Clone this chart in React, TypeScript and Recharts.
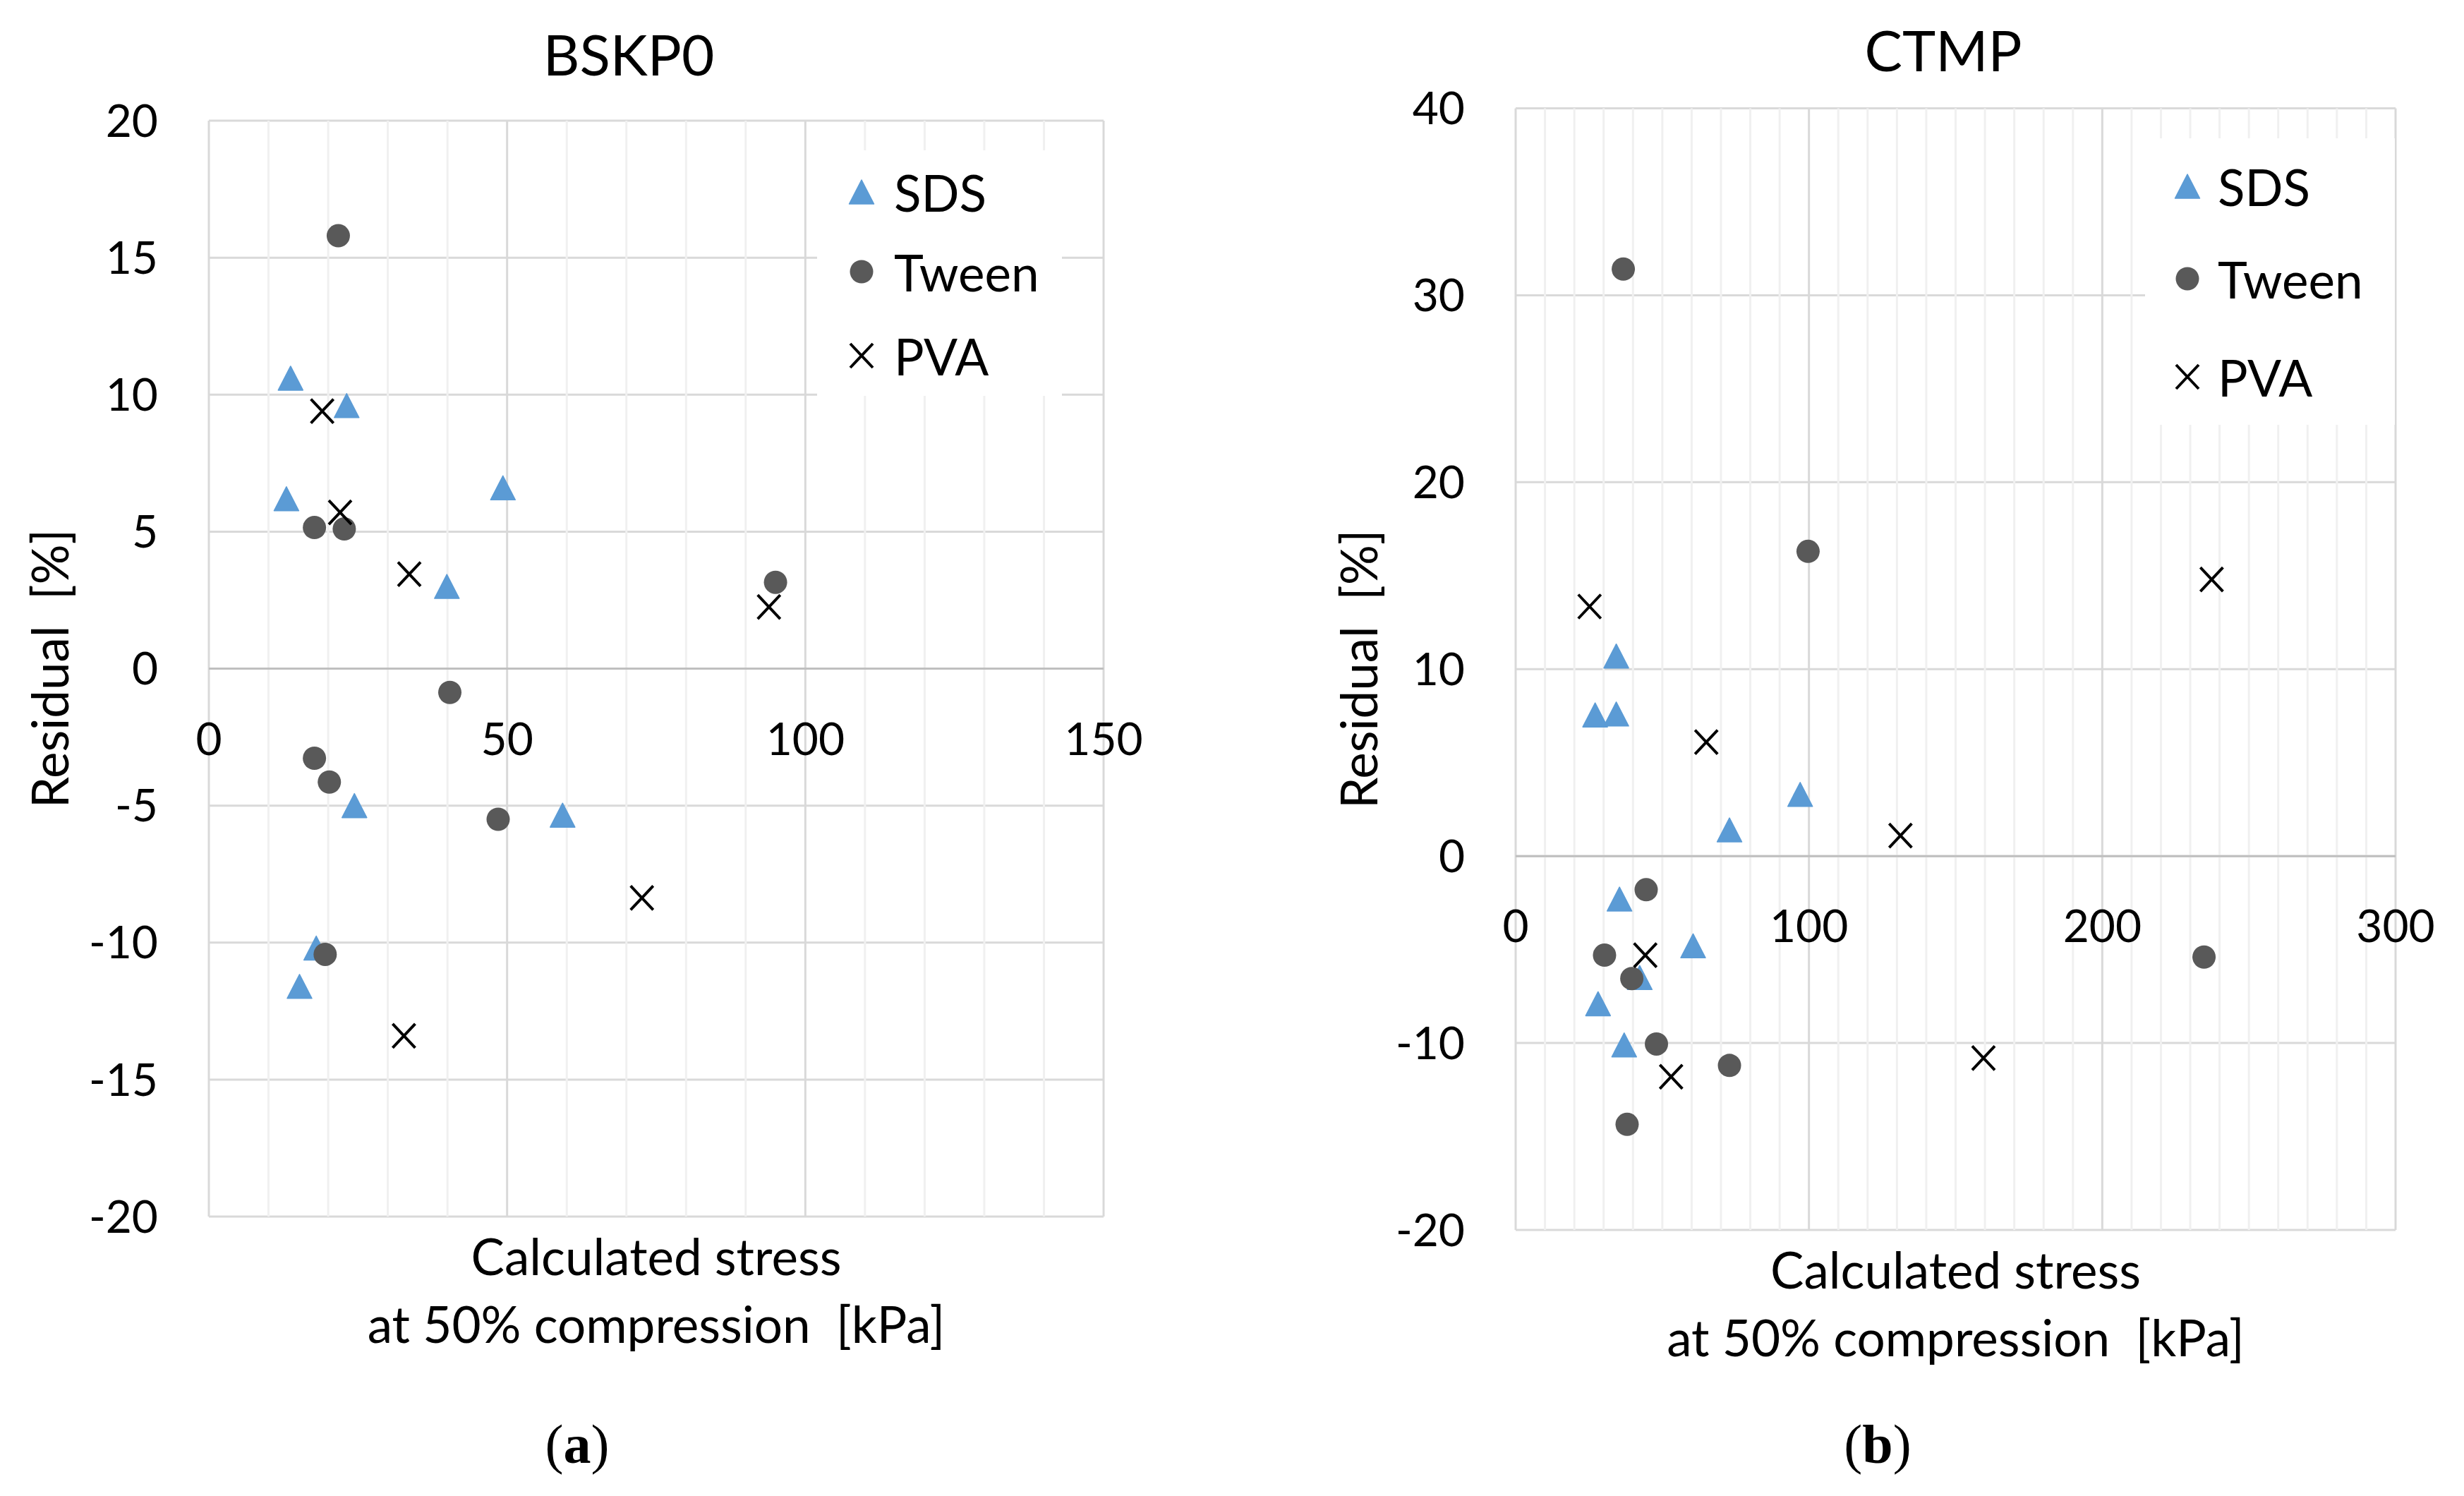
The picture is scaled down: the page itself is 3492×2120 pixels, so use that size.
import React from 'react';
import {
  ScatterChart,
  Scatter,
  XAxis,
  YAxis,
  CartesianGrid,
  ReferenceLine,
  Legend,
} from 'recharts';

// BSKP0 (a)
const bskpSdsX = [13.7, 23.1, 13.0, 49.3, 39.9, 24.4, 59.3, 18.0, 15.2];
const bskpSdsY = [10.6, 9.6, 6.2, 6.6, 3.0, -5.0, -5.35, -10.2, -11.6];
const bskpTweenX = [21.7, 17.7, 22.7, 95.0, 40.4, 17.7, 20.2, 48.5, 19.5];
const bskpTweenY = [15.8, 5.15, 5.1, 3.15, -0.87, -3.27, -4.14, -5.5, -10.43];
const bskpPvaX = [19.0, 22.0, 33.6, 93.9, 72.6, 32.7];
const bskpPvaY = [9.4, 5.7, 3.45, 2.25, -8.37, -13.4];

// CTMP (b)
const ctmpSdsX = [34.3, 27.1, 34.3, 97.0, 72.9, 35.4, 60.5, 42.3, 28.1, 37.0];
const ctmpSdsY = [10.7, 7.55, 7.6, 3.3, 1.4, -2.3, -4.8, -6.5, -7.9, -10.1];
const ctmpTweenX = [36.7, 99.7, 44.5, 30.3, 39.6, 48.0, 72.9, 38.0, 234.7];
const ctmpTweenY = [31.4, 16.3, -1.8, -5.3, -6.55, -10.05, -11.2, -14.35, -5.4];
const ctmpPvaX = [25.2, 237.3, 65.0, 131.2, 44.2, 53.0, 159.5];
const ctmpPvaY = [13.35, 14.8, 6.1, 1.1, -5.3, -11.8, -10.8];

// axis ticks
const bskpXTicks = [0, 50, 100, 150];
const bskpXMinor = [10, 20, 30, 40, 60, 70, 80, 90, 110, 120, 130, 140];
const bskpYTicks = [-20, -15, -10, -5, 0, 5, 10, 15, 20];
const ctmpXTicks = [0, 100, 200, 300];
const ctmpXMinor = [
  10, 20, 30, 40, 50, 60, 70, 80, 90, 110, 120, 130, 140, 150, 160, 170, 180,
  190, 210, 220, 230, 240, 250, 260, 270, 280, 290,
];
const ctmpYTicks = [-20, -10, 0, 10, 20, 30, 40];

const seriesNames = ['SDS', 'Tween', 'PVA'];

const FONT = 'Lato, "Open Sans", sans-serif';
const W = 1746;
const H = 2120;
const Y_W = 200;
const X_H = 40;
const FS = 64; // tick labels
const LS = 71; // legend + axis titles

const zip = (xs: number[], ys: number[]) => xs.map((x, i) => ({ x, y: ys[i] }));

const Triangle = ({ cx, cy }: any) => (
  <polygon
    points={`${cx},${cy - 17} ${cx + 17.5},${cy + 17} ${cx - 17.5},${cy + 17}`}
    fill="#5B9BD5"
    stroke="#5B9BD5"
    strokeWidth={1.5}
    strokeLinejoin="round"
  />
);
const Dot = ({ cx, cy }: any) => <circle cx={cx} cy={cy} r={16.5} fill="#595959" />;
const Cross = ({ cx, cy }: any) => (
  <path
    d={`M${cx - 16},${cy - 17}L${cx + 16},${cy + 17}M${cx - 16},${cy + 17}L${cx + 16},${cy - 17}`}
    stroke="#000"
    strokeWidth={4}
    fill="none"
  />
);

const markers = [Triangle, Dot, Cross];

function LegendBox({ box }: { box: any }) {
  return (
    <div
      style={{
        position: 'relative',
        width: box.width,
        height: box.height,
        background: '#fff',
        fontFamily: FONT,
        fontSize: LS,
        color: '#000',
      }}
    >
      {seriesNames.map((name, i) => {
        const M = markers[i];
        return (
          <div key={name}>
            <svg
              width={50}
              height={50}
              style={{ position: 'absolute', left: box.markerX - 25, top: box.rows[i] - 25 }}
            >
              <M cx={25} cy={25} />
            </svg>
            <div
              style={{
                position: 'absolute',
                left: box.textX,
                top: box.rows[i],
                transform: 'translateY(-50%)',
                lineHeight: 1,
                whiteSpace: 'nowrap',
              }}
            >
              {name}
            </div>
          </div>
        );
      })}
    </div>
  );
}

function XTick(props: any) {
  const { x, payload, zeroY } = props;
  return (
    <text x={x} y={zeroY + 122} textAnchor="middle" fontFamily={FONT} fontSize={FS} fill="#000">
      {payload.value}
    </text>
  );
}

function Panel(p: any) {
  const zeroY = p.top + ((p.bottom - p.top) * p.yMax) / (p.yMax - p.yMin);
  const series = [p.sds, p.tween, p.pva];
  const xMid = (p.left + p.right) / 2;
  const yMid = (p.top + p.bottom) / 2;
  return (
    <ScatterChart
      width={W}
      height={H}
      margin={{ top: p.top, right: W - p.right, bottom: H - p.bottom - X_H, left: p.left - Y_W }}
    >
      {p.xMinor.map((v: number) => (
        <ReferenceLine key={`m${v}`} x={v} stroke="#f0f0f0" strokeWidth={3} />
      ))}
      <CartesianGrid stroke="#d9d9d9" strokeWidth={3} />
      <ReferenceLine y={0} stroke="#bfbfbf" strokeWidth={3} />
      <XAxis
        type="number"
        dataKey="x"
        domain={[0, p.xMax]}
        ticks={p.xTicks}
        interval={0}
        height={X_H}
        axisLine={false}
        tickLine={false}
        tick={<XTick zeroY={zeroY} />}
      />
      <YAxis
        type="number"
        dataKey="y"
        domain={[p.yMin, p.yMax]}
        ticks={p.yTicks}
        interval={0}
        width={Y_W}
        axisLine={false}
        tickLine={false}
        tickSize={0}
        tickMargin={72}
        tick={{ fill: '#000', fontSize: FS, fontFamily: FONT }}
      />
      <Legend
        layout="horizontal"
        align="center"
        verticalAlign="middle"
        wrapperStyle={{ position: 'absolute', left: p.legend.left, top: p.legend.top, width: p.legend.width, height: p.legend.height }}
        content={() => <LegendBox box={p.legend} />}
      />
      {series.map((s: any[], i: number) => {
        const M = markers[i];
        return (
          <Scatter
            key={seriesNames[i]}
            name={seriesNames[i]}
            data={s}
            isAnimationActive={false}
            shape={(sp: any) => <M cx={sp.cx} cy={sp.cy} />}
          />
        );
      })}
      <text textAnchor="middle" fontFamily={FONT} fontSize={LS} fill="#000">
        <tspan x={xMid} y={p.bottom + 83}>
          Calculated stress
        </tspan>
        <tspan x={xMid} y={p.bottom + 179}>
          {'at 50% compression \u00a0[kPa]'}
        </tspan>
      </text>
      <text
        x={p.yLabelX}
        y={yMid}
        transform={`rotate(-90, ${p.yLabelX}, ${yMid})`}
        textAnchor="middle"
        dominantBaseline="central"
        fontFamily={FONT}
        fontSize={LS}
        fill="#000"
      >
        {'Residual \u00a0[%]'}
      </text>
    </ScatterChart>
  );
}

const textStyle = (x: number, y: number, size: number, extra: any = {}) => ({
  position: 'absolute' as const,
  left: x,
  top: y,
  transform: 'translate(-50%, -50%)',
  fontSize: size,
  lineHeight: 1,
  whiteSpace: 'nowrap' as const,
  color: '#000',
  ...extra,
});

export default function App() {
  return (
    <div
      style={{
        position: 'absolute',
        left: 0,
        top: 0,
        width: 3492,
        height: 2120,
        background: '#fff',
        fontFamily: FONT,
        overflow: 'hidden',
      }}
    >
      <div style={{ position: 'absolute', left: 0, top: 0 }}>
        <Panel
          left={296}
          right={1564}
          top={171}
          bottom={1724}
          xMax={150}
          xTicks={bskpXTicks}
          xMinor={bskpXMinor}
          yMin={-20}
          yMax={20}
          yTicks={bskpYTicks}
          yLabelX={69}
          sds={zip(bskpSdsX, bskpSdsY)}
          tween={zip(bskpTweenX, bskpTweenY)}
          pva={zip(bskpPvaX, bskpPvaY)}
          legend={{ left: 1158, top: 213, width: 347, height: 348, markerX: 63, textX: 109, rows: [59, 172, 291] }}
        />
      </div>
      <div style={{ position: 'absolute', left: W, top: 0 }}>
        <Panel
          left={402}
          right={1649}
          top={153.5}
          bottom={1743}
          xMax={300}
          xTicks={ctmpXTicks}
          xMinor={ctmpXMinor}
          yMin={-20}
          yMax={40}
          yTicks={ctmpYTicks}
          yLabelX={178}
          sds={zip(ctmpSdsX, ctmpSdsY)}
          tween={zip(ctmpTweenX, ctmpTweenY)}
          pva={zip(ctmpPvaX, ctmpPvaY)}
          legend={{ left: 1294, top: 196, width: 354, height: 406, markerX: 60, textX: 103, rows: [68, 199, 338] }}
        />
      </div>
      <div style={textStyle(891, 76, 80)}>BSKP0</div>
      <div style={textStyle(2754, 70, 80)}>CTMP</div>
      <div style={textStyle(818, 2047, 78, { fontFamily: '"Liberation Serif", serif' })}>
        (<b>a</b>)
      </div>
      <div style={textStyle(2661, 2047, 78, { fontFamily: '"Liberation Serif", serif' })}>
        (<b>b</b>)
      </div>
    </div>
  );
}
